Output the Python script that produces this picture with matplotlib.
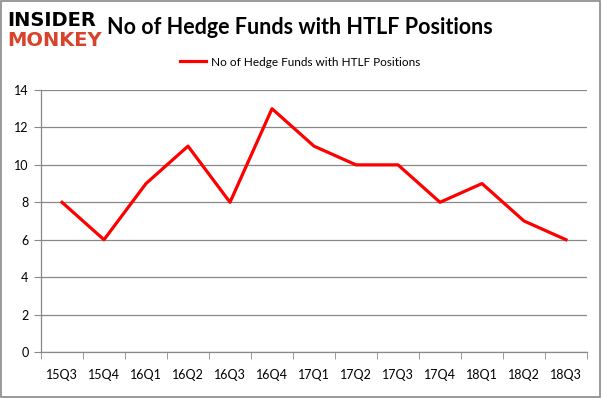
import matplotlib
matplotlib.use("Agg")
import matplotlib.pyplot as plt
from matplotlib.patches import Rectangle

quarters = ["15Q3", "15Q4", "16Q1", "16Q2", "16Q3", "16Q4", "17Q1", "17Q2",
            "17Q3", "17Q4", "18Q1", "18Q2", "18Q3"]
funds = [8, 6, 9, 11, 8, 13, 11, 10, 10, 8, 9, 7, 6]
yticks = [0, 2, 4, 6, 8, 10, 12, 14]
series_name = "No of Hedge Funds with HTLF Positions"
title = "No of Hedge Funds with HTLF Positions"

plt.rcParams['font.family'] = ['Lato', 'DejaVu Sans']

fig = plt.figure(figsize=(6.02, 3.98), dpi=100)
fig.patch.set_facecolor("white")
fig.add_artist(Rectangle((0.0015, 0.002), 0.996, 0.995, transform=fig.transFigure,
                         fill=False, edgecolor="#888888", linewidth=1.2))

ax = fig.add_axes([41/602, 1-352/398, 546/602, 262/398])
x = list(range(len(quarters)))
ax.plot(x, funds, color="#ff0000", linewidth=2.3, label=series_name, zorder=3)
ax.set_xlim(-0.5, len(quarters) - 0.5)
ax.set_ylim(0, 14)
ax.set_yticks(yticks)
ax.set_yticklabels([str(v) for v in yticks], fontsize=9)
ax.set_xticks(x)
ax.set_xticklabels(quarters, fontsize=9)
ax.tick_params(axis='x', length=0, pad=12)
ax.set_xticks([i - 0.5 for i in range(len(quarters) + 1)], minor=True)
ax.tick_params(axis='x', which='minor', length=5, color="#888888", direction='out')
ax.tick_params(axis='y', length=5, color="#888888", pad=4)
ax.grid(axis='y', color="#888888", linewidth=0.9)
ax.set_axisbelow(True)
for s in ["top", "right"]:
    ax.spines[s].set_visible(False)
for s in ["left", "bottom"]:
    ax.spines[s].set_color("#888888")
    ax.spines[s].set_linewidth(0.9)

fig.text(300/602, 1-27/398, title, ha="center", va="center", fontsize=15.5,
         fontweight="bold", color="black")
leg = fig.legend(loc="center", bbox_to_anchor=(300/602, 1-62/398), frameon=False,
                 fontsize=8.5, handlelength=2.2, handletextpad=0.4)

fig.text(7/602, 1-21/398, "INSIDER", ha="left", va="center", fontsize=14,
         fontweight="heavy", color="black", family=["DejaVu Sans"])
fig.text(7/602, 1-41/398, "MONKEY", ha="left", va="center", fontsize=14,
         fontweight="heavy", color="#d9432c", family=["DejaVu Sans"])

fig.savefig("out.png", dpi=100)
